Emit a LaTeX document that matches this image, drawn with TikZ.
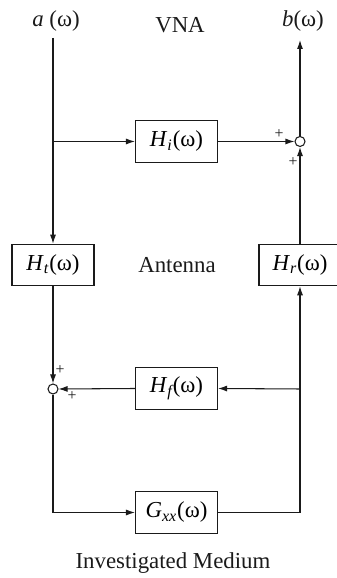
\documentclass[tikz,border=0pt]{standalone}
\usepackage{fontspec}
\setmainfont{Liberation Serif}
\usepackage{xcolor}
\usepackage{tikz}
\usetikzlibrary{arrows.meta}
\definecolor{ink}{HTML}{1A1A1A}
\newcommand{\tfunc}[2]{\textit{#1}\textsubscript{\itshape #2}(ω)}
\tikzset{
  tfbox/.style={draw=ink, line width=0.6pt, minimum width=1.64cm, minimum height=0.83cm, inner sep=0pt, font=\fontsize{13}{15}\selectfont},
  sumpt/.style={draw=ink, line width=0.6pt, fill=white, circle, minimum size=2mm, inner sep=0pt},
  sig/.style={draw=ink, line width=0.6pt, -{Latex[length=1.8mm,width=1.2mm]}},
  wire/.style={draw=ink, line width=0.6pt},
  lab/.style={text=ink, font=\fontsize{13}{15}\selectfont},
  pm/.style={text=ink, font=\fontsize{9}{10}\selectfont, inner sep=0pt}
}
\begin{document}
\begin{tikzpicture}[x=2mm, y=2mm]
  \useasboundingbox (0,0) rectangle (33.7,57.8);

  \node[lab, anchor=base] (in)  at (5.6,55.1) {\textit{a} (ω)};
  \node[lab] (vna) at (18.0,55.3) {VNA};
  \node[lab, anchor=base] (out) at (30.3,55.1) {\textit{b}(ω)};

  \coordinate (top)  at (5.3,54.0);
  \coordinate (tip)  at (30.0,53.8);
  \coordinate (split) at (5.3,43.65);

  \node[tfbox] (Hi) at (17.65,43.65) {\tfunc{H}{i}};
  \node[sumpt] (S1) at (30.0,43.65) {};
  \node[tfbox] (Ht) at (5.3,31.3) {\tfunc{H}{t}};
  \node[lab]   (ant) at (17.7,31.3) {Antenna};
  \node[tfbox] (Hr) at (30.0,31.3) {\tfunc{H}{r}};
  \node[tfbox] (Hf) at (17.65,18.95) {\tfunc{H}{f}};
  \node[sumpt] (S2) at (5.3,18.9) {};
  \node[tfbox] (Gxx) at (17.65,6.55) {\tfunc{G}{xx}};
  \node[lab] (med) at (17.3,1.5) {Investigated Medium};

  \coordinate (tap) at (30.0,18.9);
  \coordinate (bl)  at (5.3,6.55);
  \coordinate (br)  at (30.0,6.55);

  \draw[sig] (top) -- (Ht.north);
  \draw[sig] (split) -- (Hi.west);
  \draw[sig] (Hi.east) -- (S1.west);
  \draw[sig] (S1.north) -- (tip);
  \draw[sig] (Hr.north) -- (S1.south);
  \draw[sig] (Ht.south) -- (S2.north);
  \draw[sig] (Hf.west) -- (S2.east);
  \draw[sig] (tap) -- (Hf.east);
  \draw[sig] (S2.south) -- (bl) -- (Gxx.west);
  \draw[sig] (Gxx.east) -- (br) -- (Hr.south);

  \node[pm] at (27.9,44.4) {+};
  \node[pm] at (29.3,41.6) {+};
  \node[pm] at (6.0,20.8) {+};
  \node[pm] at (7.2,18.2) {+};
\end{tikzpicture}
\end{document}
